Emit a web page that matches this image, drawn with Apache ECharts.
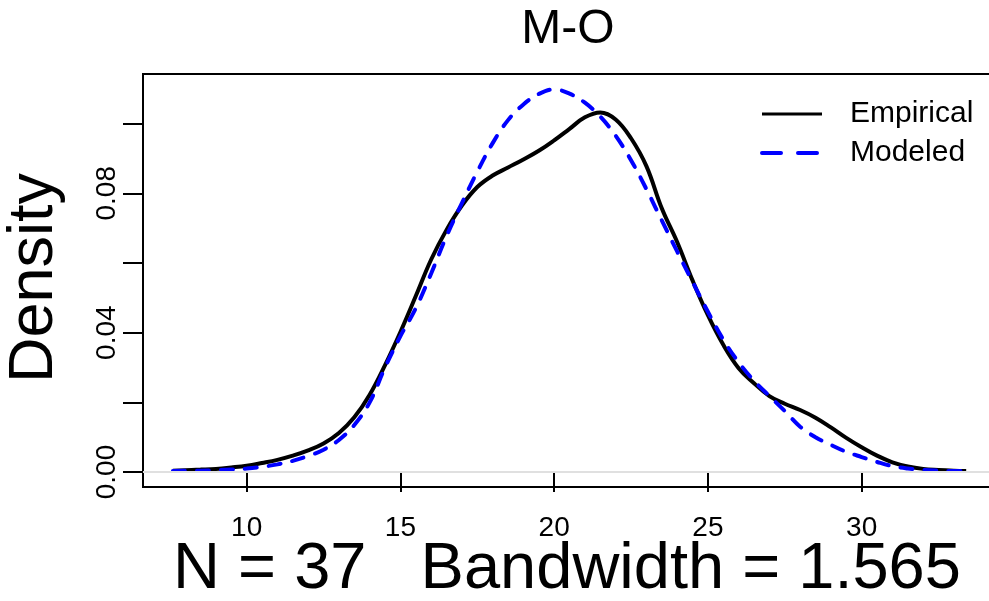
<!DOCTYPE html>
<html>
<head>
<meta charset="utf-8">
<script src="https://cdn.jsdelivr.net/npm/echarts@6/dist/echarts.min.js"></script>
<style>
  html, body { margin: 0; padding: 0; background: #fff; }
  #chart { width: 989px; height: 601px; }
</style>
</head>
<body>
<div id="chart"></div>
<script>
// grid of x positions (shared by both curves)
const xs = [7.6, 8.5, 9, 9.5, 10, 10.5, 11, 11.5, 12, 12.5, 13, 13.5, 14, 14.5, 15, 15.5,
  16, 16.5, 17, 17.5, 18, 18.5, 19, 19.5, 20, 20.5, 21, 21.5, 22, 22.5, 23, 23.5,
  24, 24.5, 25, 25.5, 26, 26.5, 27, 27.5, 28, 28.5, 29, 29.5, 30, 30.5, 31, 31.5,
  32, 32.5, 33, 33.4];

const empirical = [0.0004, 0.0007, 0.0009, 0.0013, 0.0018, 0.0026, 0.0035, 0.0047, 0.0062, 0.0082,
  0.0112, 0.0157, 0.0222, 0.0307, 0.0402, 0.0505, 0.0610, 0.0695, 0.0765, 0.0818,
  0.0851, 0.0874, 0.0897, 0.0922, 0.0952, 0.0985, 0.1018, 0.1032, 0.1012, 0.0958,
  0.0878, 0.0757, 0.0660, 0.0550, 0.0450, 0.0365, 0.0298, 0.0255, 0.0218, 0.0196,
  0.0178, 0.0156, 0.0128, 0.0098, 0.0071, 0.0047, 0.0028, 0.0016, 0.0009, 0.0006,
  0.0004, 0.0003];

const modeled = [0.0003, 0.0004, 0.0005, 0.0007, 0.0010, 0.0015, 0.0022, 0.0032, 0.0046, 0.0064,
  0.0092, 0.0135, 0.0200, 0.0300, 0.0390, 0.0470, 0.0570, 0.0677, 0.0772, 0.0862,
  0.0944, 0.1010, 0.1055, 0.1085, 0.1098, 0.1086, 0.1060, 0.1020, 0.0965, 0.0895,
  0.0812, 0.0722, 0.0633, 0.0546, 0.0460, 0.0380, 0.0315, 0.0262, 0.0218, 0.0175,
  0.0130, 0.0100, 0.0078, 0.0058, 0.0043, 0.0029, 0.0017, 0.0010, 0.0006, 0.0004,
  0.0003, 0.0003];

const xTicks = [10, 15, 20, 25, 30];
const yTicks = [0, 0.02, 0.04, 0.06, 0.08, 0.10];
const yLabels = [0, 0.04, 0.08];

const font = '"Liberation Sans", Arial, Helvetica, sans-serif';

const chart = echarts.init(document.getElementById('chart'));

chart.setOption({
  animation: false,
  backgroundColor: '#fff',
  grid: {
    left: 143, top: 74, width: 857, height: 413,
    outerBoundsMode: 'none', containLabel: false,
    show: true, borderColor: '#000', borderWidth: 2
  },
  xAxis: {
    type: 'value',
    min: 6.628, max: 34.5,
    axisLine: { show: false },
    splitLine: { show: false },
    axisTick: { show: true, customValues: xTicks, length: 20, lineStyle: { color: '#000', width: 2 } },
    axisLabel: { customValues: xTicks, color: '#000', fontSize: 28, fontFamily: font, margin: 27 }
  },
  yAxis: {
    type: 'value',
    min: -0.0043, max: 0.11424,
    axisLine: { show: false },
    splitLine: { show: false },
    axisTick: { show: true, customValues: yTicks, length: 20, lineStyle: { color: '#000', width: 2 } },
    axisLabel: {
      customValues: yLabels, color: '#000', fontSize: 28, fontFamily: font,
      rotate: 90, margin: 22, align: 'center', verticalAlign: 'bottom',
      formatter: v => v.toFixed(2)
    }
  },
  legend: {
    left: 760, top: 99, orient: 'vertical', padding: 0,
    itemWidth: 60, itemHeight: 14, itemGap: 9,
    itemStyle: { opacity: 0 },
    lineStyle: { width: 3 },
    data: [
      { name: 'Empirical' },
      { name: 'Modeled', lineStyle: { width: 4, type: [19, 17], cap: 'round' } }
    ],
    textStyle: { fontSize: 30, fontFamily: font, color: '#000', padding: [0, 0, 0, 23], lineHeight: 30 }
  },
  graphic: [
    { type: 'text', x: 568, y: 30, style: { text: 'M-O', font: '48px ' + font, fill: '#000', textAlign: 'center', textVerticalAlign: 'middle' } },
    { type: 'text', x: 35, y: 278, rotation: Math.PI / 2, style: { text: 'Density', font: '63px ' + font, fill: '#000', textAlign: 'center', textVerticalAlign: 'middle' } },
    { type: 'text', x: 567, y: 570, style: { text: 'N = 37   Bandwidth = 1.565', font: '65px ' + font, fill: '#000', textAlign: 'center', textVerticalAlign: 'middle' } }
  ],
  series: [
    {
      name: 'Empirical', type: 'line', smooth: 0.4, symbol: 'none',
      data: xs.map((x, i) => [x, empirical[i]]),
      lineStyle: { color: '#000', width: 4 },
      itemStyle: { color: '#000' },
      markLine: {
        silent: true, symbol: 'none', label: { show: false },
        lineStyle: { color: '#e0e0e0', width: 2, type: 'solid' },
        data: [{ yAxis: 0 }]
      },
      z: 3
    },
    {
      name: 'Modeled', type: 'line', smooth: 0.4, symbol: 'none',
      data: xs.map((x, i) => [x, modeled[i]]),
      lineStyle: { color: '#0000ff', width: 4, type: [12, 12], cap: 'round' },
      itemStyle: { color: '#0000ff' },
      z: 4
    }
  ]
});
</script>
</body>
</html>
